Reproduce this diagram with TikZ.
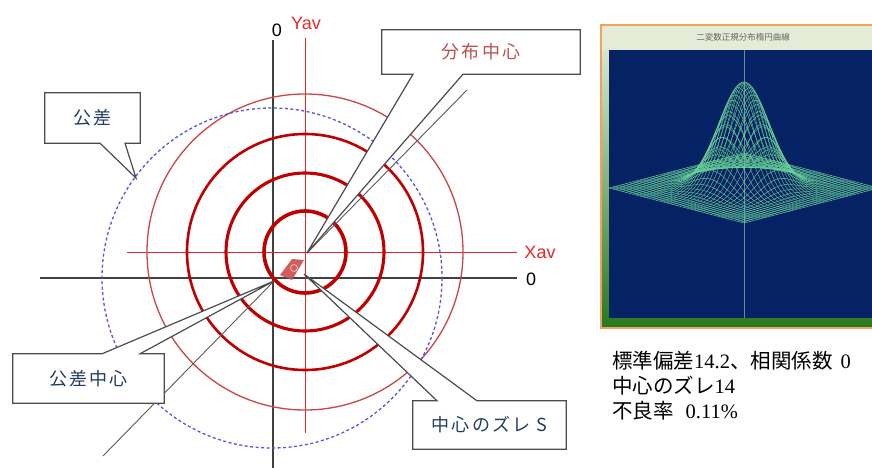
\documentclass[tikz,border=0pt]{standalone}
\usepackage{fontspec}
\setmainfont{Liberation Serif}
\newfontfamily\jpfont{Noto Sans CJK JP}
\newfontfamily\jpwide[LetterSpace=12]{Noto Sans CJK JP}
\newfontfamily\arialfont{Liberation Sans}
\usepackage{tikz}

\definecolor{ringred}{RGB}{192,0,0}
\definecolor{ringlight}{RGB}{200,70,70}
\definecolor{avgred}{RGB}{235,40,40}
\definecolor{tolblue}{RGB}{85,85,225}
\definecolor{boxblue}{RGB}{35,60,100}
\definecolor{bunpured}{RGB}{190,80,77}
\definecolor{blobred}{RGB}{205,75,75}
\definecolor{panelblue}{RGB}{4,34,100}
\definecolor{meshgreen}{RGB}{105,210,150}
\definecolor{framelight}{RGB}{232,240,222}
\definecolor{framegreen}{RGB}{40,120,30}
\definecolor{frameorange}{RGB}{240,160,95}
\definecolor{titlebar}{RGB}{228,236,215}

\begin{document}
\begin{tikzpicture}[x=1pt, y=-1pt,
		axis_style/.style={draw=black!75, line width=1.1pt},
		avg_style/.style={draw=avgred, line width=0.9pt},
		ring_style/.style={draw=ringred},
		tol_style/.style={draw=tolblue, line width=1.3pt, dash pattern=on 3pt off 2.5pt},
		box_style/.style={rectangle, inner sep=0pt},
		call_style/.style={draw=black!70, fill=white, line width=1.2pt},
		lead_style/.style={draw=black!65, line width=0.9pt},
		label_style/.style={font=\arialfont\fontsize{18}{18}\selectfont, inner sep=0pt},
		call_text/.style={font=\jpwide\fontsize{18}{18}\selectfont, text=boxblue},
		info_style/.style={font=\fontsize{20.5}{20.5}\selectfont, inner sep=0pt, anchor=west},
		mesh_style/.style={draw=meshgreen, line width=0.4pt}]
		
		\useasboundingbox (0,0) rectangle (872,468);
		
		\coordinate (c_av) at (305,252);
		\coordinate (c_tol) at (272,278);
		\coordinate (x_start) at (40,278);
		\coordinate (x_end) at (517,278);
		\coordinate (y_start) at (273,40);
		\coordinate (y_end) at (273,470);
		\coordinate (xav_start) at (127,252);
		\coordinate (xav_end) at (517,252);
		\coordinate (yav_start) at (305,38);
		\coordinate (yav_end) at (305,433);
		
		\node[label_style] (y0) at (277,30) {0};
		\node[label_style, text=avgred] (yav) at (306,23) {Yav};
		\node[label_style] (x0) at (531,279) {0};
		\node[label_style, text=avgred] (xav) at (540,252) {Xav};
		
		\draw[axis_style] (x_start) -- (x_end);
		\draw[axis_style] (y_start) -- (y_end);
		\draw[avg_style] (xav_start) -- (xav_end);
		\draw[avg_style] (yav_start) -- (yav_end);
		
		\foreach \r/\w in {41/3.6, 79/3.1, 118/2.6}
		\draw[ring_style, line width=\w pt] (c_av) circle[radius=\r];
		\draw[ring_style, draw=ringlight, line width=1.3pt] (c_av) circle[radius=158];
		\draw[tol_style] (c_tol) circle[radius=170];
		
		\fill[blobred, opacity=0.9] (280,275) -- (292,259) -- (304,260) -- (292,280) -- cycle;
		\draw[white!65!blobred, line width=0.8pt] (294,268) circle[radius=3.5];
		
		% callouts
		\node[box_style, minimum width=95pt, minimum height=50pt] (kousa) at (92.5,118) {};
		\node[box_style, minimum width=198pt, minimum height=44pt] (bunpu) at (481,52) {};
		\node[box_style, minimum width=151pt, minimum height=49pt] (kc) at (88.5,378.5) {};
		\node[box_style, minimum width=153pt, minimum height=48pt] (zure) at (489.5,425) {};
		\coordinate (kousa_tip) at (136,178);
		\coordinate (bunpu_tip) at (307,253);
		\coordinate (bunpu_lead) at (467,90);
		\coordinate (kc_tip) at (274,281);
		\coordinate (kc_lead) at (103,456);
		\coordinate (zure_tip) at (304,274);
		
		\draw[lead_style] (bunpu_lead) -- (bunpu_tip);
		\draw[lead_style] (kc_lead) -- (kc_tip);
		
		\draw[call_style] (kousa.south west) -- (kousa.north west) -- (kousa.north east) -- (kousa.south east)
		-- ([xshift=32.5pt]kousa.south) -- (kousa_tip) -- ([xshift=7.5pt]kousa.south) -- cycle;
		\draw[call_style] (bunpu.south west) -- (bunpu.north west) -- (bunpu.north east) -- (bunpu.south east)
		-- ([xshift=-18pt]bunpu.south) -- (bunpu_tip) -- ([xshift=-68pt]bunpu.south) -- cycle;
		\draw[call_style] (kc.north west) -- ([xshift=13.5pt]kc.north) -- (kc_tip) -- ([xshift=51.5pt]kc.north)
		-- (kc.north east) -- (kc.south east) -- (kc.south west) -- cycle;
		\draw[call_style] (zure.north west) -- ([xshift=-52.5pt]zure.north) -- (zure_tip) -- ([xshift=-12.5pt]zure.north)
		-- (zure.north east) -- (zure.south east) -- (zure.south west) -- cycle;
		
		\node[call_text] (kousa_text) at (kousa) {公差};
		\node[call_text, text=bunpured] (bunpu_text) at (bunpu) {分布中心};
		\node[call_text] (kc_text) at (kc) {公差中心};
		\node[call_text] (zure_text) at (zure) {中心のズレ\hspace{6pt}S};
		
		% graph panel
		\begin{scope}
			\clip (599,23) rectangle (872,331);
			\shade[top color=framelight, bottom color=framegreen] (601,25) rectangle (885,328);
			\fill[titlebar] (601,25) rectangle (885,50);
			\fill[panelblue] (609,50) rectangle (885,318);
			\draw[draw=white!45!panelblue, line width=0.6pt] (744,50) -- (744,318);
			\begin{scope}
				\clip (609,50) rectangle (872,318);
				\foreach \uu in {-1,-0.95,...,1.01} {
					\draw[mesh_style] plot[domain=-1:1, samples=61, variable=\vv]
					({744+67.5*((\uu)-(\vv))}, {188-17.5*((\uu)+(\vv))-106*exp(-((\uu)*(\uu)+(\vv)*(\vv))/0.14)});
					\draw[mesh_style] plot[domain=-1:1, samples=61, variable=\vv]
					({744+67.5*((\vv)-(\uu))}, {188-17.5*((\uu)+(\vv))-106*exp(-((\uu)*(\uu)+(\vv)*(\vv))/0.14)});
				}
			\end{scope}
			\draw[draw=frameorange, line width=1.6pt] (601,25) rectangle (885,328);
		\end{scope}
		\node[font=\jpfont\fontsize{8.5}{8.5}\selectfont, text=black!60] (panel_title) at (743,37) {二変数正規分布楕円曲線};
		
		\node[info_style] (info1) at (612,361) {{\jpfont 標準偏差}14.2{\jpfont 、相関係数}\hspace{8pt}0};
		\node[info_style] (info2) at (612,386) {{\jpfont 中心のズレ}14};
		\node[info_style] (info3) at (612,411) {{\jpfont 不良率}\hspace{12pt}0.11\%};
		
\end{tikzpicture}
\end{document}
